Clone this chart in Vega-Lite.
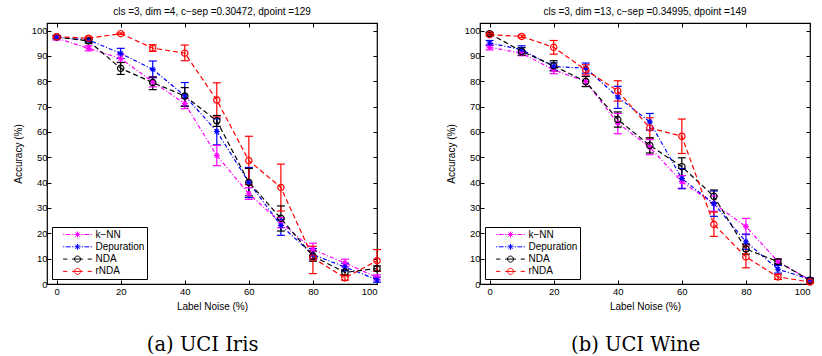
{
  "$schema": "https://vega.github.io/schema/vega-lite/v6.json",
  "background": "white",
  "padding": {"left": 12, "top": 5, "right": 5, "bottom": 0},
  "datasets": {
    "iris": [
      {"m": "k−NN", "x": 0, "y": 97.0, "lo": 96.3, "hi": 97.7},
      {"m": "k−NN", "x": 10, "y": 93.0, "lo": 92.0, "hi": 94.0},
      {"m": "k−NN", "x": 20, "y": 89.0, "lo": 87.5, "hi": 90.5},
      {"m": "k−NN", "x": 30, "y": 79.8, "lo": 77.8, "hi": 81.8},
      {"m": "k−NN", "x": 40, "y": 71.2, "lo": 69.2, "hi": 73.2},
      {"m": "k−NN", "x": 50, "y": 50.7, "lo": 46.7, "hi": 54.7},
      {"m": "k−NN", "x": 60, "y": 35.6, "lo": 33.4, "hi": 38.0},
      {"m": "k−NN", "x": 70, "y": 24.2, "lo": 22.2, "hi": 26.2},
      {"m": "k−NN", "x": 80, "y": 13.6, "lo": 11.1, "hi": 16.1},
      {"m": "k−NN", "x": 90, "y": 8.3, "lo": 6.8, "hi": 9.8},
      {"m": "k−NN", "x": 100, "y": 2.6, "lo": 1.6, "hi": 3.6},
      {"m": "Depuration", "x": 0, "y": 97.3, "lo": 96.8, "hi": 97.8},
      {"m": "Depuration", "x": 10, "y": 96.3, "lo": 95.8, "hi": 96.8},
      {"m": "Depuration", "x": 20, "y": 91.0, "lo": 89.0, "hi": 93.0},
      {"m": "Depuration", "x": 30, "y": 84.7, "lo": 81.4, "hi": 88.0},
      {"m": "Depuration", "x": 40, "y": 74.3, "lo": 70.2, "hi": 79.5},
      {"m": "Depuration", "x": 50, "y": 60.2, "lo": 54.9, "hi": 65.2},
      {"m": "Depuration", "x": 60, "y": 40.1, "lo": 34.1, "hi": 46.0},
      {"m": "Depuration", "x": 70, "y": 23.1, "lo": 19.2, "hi": 25.5},
      {"m": "Depuration", "x": 80, "y": 11.6, "lo": 9.6, "hi": 14.0},
      {"m": "Depuration", "x": 90, "y": 6.7, "lo": 5.2, "hi": 8.2},
      {"m": "Depuration", "x": 100, "y": 1.7, "lo": 0.7, "hi": 2.7},
      {"m": "NDA", "x": 0, "y": 97.5, "lo": 97.0, "hi": 98.0},
      {"m": "NDA", "x": 10, "y": 95.9, "lo": 95.1, "hi": 96.7},
      {"m": "NDA", "x": 20, "y": 85.1, "lo": 82.7, "hi": 87.4},
      {"m": "NDA", "x": 30, "y": 79.5, "lo": 76.7, "hi": 81.7},
      {"m": "NDA", "x": 40, "y": 74.2, "lo": 70.2, "hi": 77.5},
      {"m": "NDA", "x": 50, "y": 64.4, "lo": 62.2, "hi": 66.5},
      {"m": "NDA", "x": 60, "y": 40.1, "lo": 34.8, "hi": 45.6},
      {"m": "NDA", "x": 70, "y": 25.9, "lo": 20.9, "hi": 30.8},
      {"m": "NDA", "x": 80, "y": 11.0, "lo": 9.0, "hi": 13.0},
      {"m": "NDA", "x": 90, "y": 4.6, "lo": 3.6, "hi": 5.6},
      {"m": "NDA", "x": 100, "y": 6.1, "lo": 5.1, "hi": 7.1},
      {"m": "rNDA", "x": 0, "y": 97.6, "lo": 97.1, "hi": 98.1},
      {"m": "rNDA", "x": 10, "y": 97.0, "lo": 96.5, "hi": 97.5},
      {"m": "rNDA", "x": 20, "y": 98.8, "lo": 98.5, "hi": 99.1},
      {"m": "rNDA", "x": 30, "y": 93.1, "lo": 91.8, "hi": 94.4},
      {"m": "rNDA", "x": 40, "y": 91.1, "lo": 88.1, "hi": 94.3},
      {"m": "rNDA", "x": 50, "y": 72.6, "lo": 65.9, "hi": 79.4},
      {"m": "rNDA", "x": 60, "y": 48.7, "lo": 39.2, "hi": 58.3},
      {"m": "rNDA", "x": 70, "y": 38.1, "lo": 28.8, "hi": 47.3},
      {"m": "rNDA", "x": 80, "y": 10.3, "lo": 4.1, "hi": 14.9},
      {"m": "rNDA", "x": 90, "y": 2.4, "lo": 1.5, "hi": 3.5},
      {"m": "rNDA", "x": 100, "y": 9.2, "lo": 5.0, "hi": 13.6}
    ],
    "wine": [
      {"m": "k−NN", "x": 0, "y": 93.4, "lo": 92.4, "hi": 94.4},
      {"m": "k−NN", "x": 10, "y": 91.1, "lo": 90.1, "hi": 92.1},
      {"m": "k−NN", "x": 20, "y": 84.5, "lo": 83.0, "hi": 86.0},
      {"m": "k−NN", "x": 30, "y": 79.9, "lo": 78.0, "hi": 82.0},
      {"m": "k−NN", "x": 40, "y": 63.5, "lo": 59.3, "hi": 67.3},
      {"m": "k−NN", "x": 50, "y": 54.0, "lo": 51.0, "hi": 57.0},
      {"m": "k−NN", "x": 60, "y": 40.3, "lo": 37.8, "hi": 42.8},
      {"m": "k−NN", "x": 70, "y": 31.7, "lo": 28.7, "hi": 34.7},
      {"m": "k−NN", "x": 80, "y": 22.7, "lo": 19.5, "hi": 25.9},
      {"m": "k−NN", "x": 90, "y": 8.9, "lo": 7.9, "hi": 9.9},
      {"m": "k−NN", "x": 100, "y": 1.6, "lo": 1.1, "hi": 2.1},
      {"m": "Depuration", "x": 0, "y": 95.1, "lo": 94.1, "hi": 96.1},
      {"m": "Depuration", "x": 10, "y": 92.5, "lo": 91.0, "hi": 94.0},
      {"m": "Depuration", "x": 20, "y": 85.8, "lo": 84.3, "hi": 87.3},
      {"m": "Depuration", "x": 30, "y": 85.2, "lo": 83.2, "hi": 87.2},
      {"m": "Depuration", "x": 40, "y": 73.8, "lo": 69.3, "hi": 78.0},
      {"m": "Depuration", "x": 50, "y": 64.0, "lo": 60.7, "hi": 67.3},
      {"m": "Depuration", "x": 60, "y": 41.6, "lo": 37.6, "hi": 45.6},
      {"m": "Depuration", "x": 70, "y": 31.7, "lo": 26.7, "hi": 36.7},
      {"m": "Depuration", "x": 80, "y": 16.7, "lo": 13.7, "hi": 19.7},
      {"m": "Depuration", "x": 90, "y": 5.8, "lo": 4.3, "hi": 7.3},
      {"m": "Depuration", "x": 100, "y": 1.9, "lo": 1.4, "hi": 2.4},
      {"m": "NDA", "x": 0, "y": 98.8, "lo": 98.3, "hi": 99.3},
      {"m": "NDA", "x": 10, "y": 91.8, "lo": 90.3, "hi": 93.3},
      {"m": "NDA", "x": 20, "y": 86.1, "lo": 84.1, "hi": 88.1},
      {"m": "NDA", "x": 30, "y": 79.9, "lo": 77.9, "hi": 81.9},
      {"m": "NDA", "x": 40, "y": 64.9, "lo": 61.9, "hi": 67.9},
      {"m": "NDA", "x": 50, "y": 54.7, "lo": 51.7, "hi": 57.7},
      {"m": "NDA", "x": 60, "y": 46.3, "lo": 42.8, "hi": 49.8},
      {"m": "NDA", "x": 70, "y": 34.6, "lo": 32.1, "hi": 37.1},
      {"m": "NDA", "x": 80, "y": 13.8, "lo": 11.8, "hi": 15.8},
      {"m": "NDA", "x": 90, "y": 8.8, "lo": 7.8, "hi": 9.8},
      {"m": "NDA", "x": 100, "y": 1.5, "lo": 1.0, "hi": 2.0},
      {"m": "rNDA", "x": 0, "y": 98.4, "lo": 97.9, "hi": 98.9},
      {"m": "rNDA", "x": 10, "y": 97.7, "lo": 97.2, "hi": 98.2},
      {"m": "rNDA", "x": 20, "y": 93.4, "lo": 90.7, "hi": 96.1},
      {"m": "rNDA", "x": 30, "y": 84.5, "lo": 82.5, "hi": 86.5},
      {"m": "rNDA", "x": 40, "y": 76.2, "lo": 72.2, "hi": 80.2},
      {"m": "rNDA", "x": 50, "y": 61.6, "lo": 57.6, "hi": 65.6},
      {"m": "rNDA", "x": 60, "y": 58.3, "lo": 51.5, "hi": 65.1},
      {"m": "rNDA", "x": 70, "y": 23.5, "lo": 18.8, "hi": 28.4},
      {"m": "rNDA", "x": 80, "y": 10.7, "lo": 6.4, "hi": 15.0},
      {"m": "rNDA", "x": 90, "y": 2.8, "lo": 1.8, "hi": 3.8},
      {"m": "rNDA", "x": 100, "y": 0.8, "lo": 0.3, "hi": 1.3}
    ]
  },
  "config": {
    "font": "Liberation Sans",
    "view": {"stroke": "black", "strokeWidth": 1.2},
    "axis": {"grid": false, "domain": false, "tickColor": "black", "labelColor": "black", "titleColor": "black", "labelFont": "Liberation Sans", "titleFont": "Liberation Sans", "labelFontSize": 9.5, "titleFontSize": 10, "titleFontWeight": "normal", "tickSize": -4},
    "title": {"font": "Liberation Sans", "fontSize": 10, "fontWeight": "normal", "color": "black"},
    "legend": {"orient": "bottom-left", "offset": 5, "padding": 2.5, "strokeColor": "black", "fillColor": "white", "symbolSize": 36, "symbolStrokeWidth": 1, "symbolOffset": 18, "labelOffset": 13, "labelFontSize": 10, "labelFont": "Liberation Sans", "labelColor": "black", "rowPadding": 2.3, "symbolOpacity": 1, "symbolFillColor": "transparent"}
  },
  "spacing": 54,
  "resolve": {"scale": {"color": "independent", "shape": "independent"}, "legend": {"color": "independent", "shape": "independent"}},
  "hconcat": [
    {
      "title": {"text": "(a) UCI Iris", "orient": "bottom", "font": "DejaVu Serif", "fontSize": 19.5, "fontWeight": "normal", "offset": 24, "anchor": "middle", "dx": 1},
      "resolve": {"scale": {"color": "independent", "shape": "independent"}, "legend": {"color": "independent", "shape": "independent"}},
      "vconcat": [
        {
          "width": 330, "height": 261,
          "title": {"text": "cls =3, dim =4, c−sep =0.30472, dpoint =129", "frame": "group", "offset": 6},
          "data": {"name": "iris"},
          "resolve": {"axis": {"x": "independent", "y": "independent"}},
          "layer": [
            {
              "mark": {"type": "point", "filled": false, "opacity": 0},
              "encoding": {
                "x": {"field": "x", "type": "quantitative", "axis": {"orient": "top", "values": [0, 20, 40, 60, 80, 100], "labels": false, "title": null}},
                "y": {"field": "y", "type": "quantitative", "axis": {"orient": "right", "values": [0, 10, 20, 30, 40, 50, 60, 70, 80, 90, 100], "labels": false, "title": null}},
                "color": {"field": "m", "type": "nominal", "legend": {"title": null, "orient": "bottom-left", "symbolSize": 36, "symbolOpacity": 1, "encode": {"symbols": {"update": {"opacity": {"value": 1}, "strokeOpacity": {"value": 1}, "strokeWidth": {"value": 1}}}}}},
                "shape": {"field": "m", "type": "nominal", "scale": {"domain": ["k−NN", "Depuration", "NDA", "rNDA"], "range": ["M-4.8,0L-4.4,0M-3.9,0L-2.3,0M-1.8,0L-1.4,0M-1,0L1,0M1.4,0L1.8,0M2.3,0L3.9,0M4.4,0L4.8,0M0,-1L0,1M-0.7,-0.7L0.7,0.7M-0.7,0.7L0.7,-0.7", "M-4.8,0L-4.4,0M-3.9,0L-2.3,0M-1.8,0L-1.4,0M-1,0L1,0M1.4,0L1.8,0M2.3,0L3.9,0M4.4,0L4.8,0M0,-1L0,1M-0.7,-0.7L0.7,0.7M-0.7,0.7L0.7,-0.7", "M-4.8,0L-3.4,0M-1.8,0L1.8,0M3.4,0L4.8,0M1,0A1,1,0,1,1,-1,0A1,1,0,1,1,1,0", "M-4.8,0L-3.4,0M-1.8,0L1.8,0M3.4,0L4.8,0M1,0A1,1,0,1,1,-1,0A1,1,0,1,1,1,0"]}, "legend": {"title": null, "orient": "bottom-left", "symbolSize": 36, "symbolOpacity": 1, "encode": {"symbols": {"update": {"opacity": {"value": 1}, "strokeOpacity": {"value": 1}, "strokeWidth": {"value": 1}}}}}}
              }
            },
            {
              "transform": [{"filter": {"field": "m", "oneOf": ["k−NN", "Depuration"]}}],
              "mark": {"type": "line", "strokeWidth": 1.2, "strokeDash": [4, 2, 1, 2]},
              "encoding": {
                "x": {"field": "x", "type": "quantitative", "scale": {"domain": [-3, 100], "nice": false, "zero": false}, "axis": {"orient": "bottom", "values": [0, 20, 40, 60, 80, 100], "title": "Label Noise (%)", "labelPadding": 6, "titlePadding": 6}},
                "y": {"field": "y", "type": "quantitative", "scale": {"domain": [0, 103], "nice": false}, "axis": {"orient": "left", "values": [0, 10, 20, 30, 40, 50, 60, 70, 80, 90, 100], "title": "Accuracy (%)", "labelPadding": 4, "titlePadding": 8}},
                "color": {"field": "m", "type": "nominal", "scale": {"domain": ["k−NN", "Depuration", "NDA", "rNDA"], "range": ["#ff00ff", "#0000ff", "#000000", "#ff0000"]}}
              }
            },
            {
              "transform": [{"filter": {"field": "m", "oneOf": ["NDA", "rNDA"]}}],
              "mark": {"type": "line", "strokeWidth": 1.2, "strokeDash": [5, 3]},
              "encoding": {
                "x": {"field": "x", "type": "quantitative", "axis": null},
                "y": {"field": "y", "type": "quantitative", "axis": null},
                "color": {"field": "m", "type": "nominal"}
              }
            },
            {
              "mark": {"type": "rule", "strokeWidth": 1.2},
              "encoding": {
                "x": {"field": "x", "type": "quantitative", "axis": null},
                "y": {"field": "lo", "type": "quantitative", "axis": null},
                "y2": {"field": "hi"},
                "color": {"field": "m", "type": "nominal"}
              }
            },
            {
              "mark": {"type": "point", "shape": "stroke", "size": 64, "filled": false, "strokeWidth": 1.2, "opacity": 1},
              "encoding": {
                "x": {"field": "x", "type": "quantitative", "axis": null},
                "y": {"field": "lo", "type": "quantitative", "axis": null},
                "color": {"field": "m", "type": "nominal"}
              }
            },
            {
              "mark": {"type": "point", "shape": "stroke", "size": 64, "filled": false, "strokeWidth": 1.2, "opacity": 1},
              "encoding": {
                "x": {"field": "x", "type": "quantitative", "axis": null},
                "y": {"field": "hi", "type": "quantitative", "axis": null},
                "color": {"field": "m", "type": "nominal"}
              }
            },
            {
              "transform": [{"filter": {"field": "m", "oneOf": ["k−NN", "Depuration"]}}],
              "mark": {"type": "point", "shape": "M-1,0L1,0M0,-1L0,1M-0.7,-0.7L0.7,0.7M-0.7,0.7L0.7,-0.7", "size": 36, "filled": false, "strokeWidth": 1.1, "opacity": 1},
              "encoding": {
                "x": {"field": "x", "type": "quantitative", "axis": null},
                "y": {"field": "y", "type": "quantitative", "axis": null},
                "color": {"field": "m", "type": "nominal"}
              }
            },
            {
              "transform": [{"filter": {"field": "m", "oneOf": ["NDA", "rNDA"]}}],
              "mark": {"type": "point", "shape": "circle", "size": 40, "filled": false, "strokeWidth": 1.2, "opacity": 1},
              "encoding": {
                "x": {"field": "x", "type": "quantitative", "axis": null},
                "y": {"field": "y", "type": "quantitative", "axis": null},
                "color": {"field": "m", "type": "nominal"}
              }
            }
          ]
        }
      ]
    },
    {
      "title": {"text": "(b) UCI Wine", "orient": "bottom", "font": "DejaVu Serif", "fontSize": 19.5, "fontWeight": "normal", "offset": 24, "anchor": "middle", "dx": 1},
      "resolve": {"scale": {"color": "independent", "shape": "independent"}, "legend": {"color": "independent", "shape": "independent"}},
      "vconcat": [
        {
          "width": 330, "height": 261,
          "title": {"text": "cls =3, dim =13, c−sep =0.34995, dpoint =149", "frame": "group", "offset": 6},
          "data": {"name": "wine"},
          "resolve": {"axis": {"x": "independent", "y": "independent"}},
          "layer": [
            {
              "mark": {"type": "point", "filled": false, "opacity": 0},
              "encoding": {
                "x": {"field": "x", "type": "quantitative", "axis": {"orient": "top", "values": [0, 20, 40, 60, 80, 100], "labels": false, "title": null}},
                "y": {"field": "y", "type": "quantitative", "axis": {"orient": "right", "values": [0, 10, 20, 30, 40, 50, 60, 70, 80, 90, 100], "labels": false, "title": null}},
                "color": {"field": "m", "type": "nominal", "legend": {"title": null, "orient": "bottom-left", "symbolSize": 36, "symbolOpacity": 1, "encode": {"symbols": {"update": {"opacity": {"value": 1}, "strokeOpacity": {"value": 1}, "strokeWidth": {"value": 1}}}}}},
                "shape": {"field": "m", "type": "nominal", "scale": {"domain": ["k−NN", "Depuration", "NDA", "rNDA"], "range": ["M-4.8,0L-4.4,0M-3.9,0L-2.3,0M-1.8,0L-1.4,0M-1,0L1,0M1.4,0L1.8,0M2.3,0L3.9,0M4.4,0L4.8,0M0,-1L0,1M-0.7,-0.7L0.7,0.7M-0.7,0.7L0.7,-0.7", "M-4.8,0L-4.4,0M-3.9,0L-2.3,0M-1.8,0L-1.4,0M-1,0L1,0M1.4,0L1.8,0M2.3,0L3.9,0M4.4,0L4.8,0M0,-1L0,1M-0.7,-0.7L0.7,0.7M-0.7,0.7L0.7,-0.7", "M-4.8,0L-3.4,0M-1.8,0L1.8,0M3.4,0L4.8,0M1,0A1,1,0,1,1,-1,0A1,1,0,1,1,1,0", "M-4.8,0L-3.4,0M-1.8,0L1.8,0M3.4,0L4.8,0M1,0A1,1,0,1,1,-1,0A1,1,0,1,1,1,0"]}, "legend": {"title": null, "orient": "bottom-left", "symbolSize": 36, "symbolOpacity": 1, "encode": {"symbols": {"update": {"opacity": {"value": 1}, "strokeOpacity": {"value": 1}, "strokeWidth": {"value": 1}}}}}}
              }
            },
            {
              "transform": [{"filter": {"field": "m", "oneOf": ["k−NN", "Depuration"]}}],
              "mark": {"type": "line", "strokeWidth": 1.2, "strokeDash": [4, 2, 1, 2]},
              "encoding": {
                "x": {"field": "x", "type": "quantitative", "scale": {"domain": [-3, 100], "nice": false, "zero": false}, "axis": {"orient": "bottom", "values": [0, 20, 40, 60, 80, 100], "title": "Label Noise (%)", "labelPadding": 6, "titlePadding": 6}},
                "y": {"field": "y", "type": "quantitative", "scale": {"domain": [0, 103], "nice": false}, "axis": {"orient": "left", "values": [0, 10, 20, 30, 40, 50, 60, 70, 80, 90, 100], "title": "Accuracy (%)", "labelPadding": 4, "titlePadding": 8}},
                "color": {"field": "m", "type": "nominal", "scale": {"domain": ["k−NN", "Depuration", "NDA", "rNDA"], "range": ["#ff00ff", "#0000ff", "#000000", "#ff0000"]}}
              }
            },
            {
              "transform": [{"filter": {"field": "m", "oneOf": ["NDA", "rNDA"]}}],
              "mark": {"type": "line", "strokeWidth": 1.2, "strokeDash": [5, 3]},
              "encoding": {
                "x": {"field": "x", "type": "quantitative", "axis": null},
                "y": {"field": "y", "type": "quantitative", "axis": null},
                "color": {"field": "m", "type": "nominal"}
              }
            },
            {
              "mark": {"type": "rule", "strokeWidth": 1.2},
              "encoding": {
                "x": {"field": "x", "type": "quantitative", "axis": null},
                "y": {"field": "lo", "type": "quantitative", "axis": null},
                "y2": {"field": "hi"},
                "color": {"field": "m", "type": "nominal"}
              }
            },
            {
              "mark": {"type": "point", "shape": "stroke", "size": 64, "filled": false, "strokeWidth": 1.2, "opacity": 1},
              "encoding": {
                "x": {"field": "x", "type": "quantitative", "axis": null},
                "y": {"field": "lo", "type": "quantitative", "axis": null},
                "color": {"field": "m", "type": "nominal"}
              }
            },
            {
              "mark": {"type": "point", "shape": "stroke", "size": 64, "filled": false, "strokeWidth": 1.2, "opacity": 1},
              "encoding": {
                "x": {"field": "x", "type": "quantitative", "axis": null},
                "y": {"field": "hi", "type": "quantitative", "axis": null},
                "color": {"field": "m", "type": "nominal"}
              }
            },
            {
              "transform": [{"filter": {"field": "m", "oneOf": ["k−NN", "Depuration"]}}],
              "mark": {"type": "point", "shape": "M-1,0L1,0M0,-1L0,1M-0.7,-0.7L0.7,0.7M-0.7,0.7L0.7,-0.7", "size": 36, "filled": false, "strokeWidth": 1.1, "opacity": 1},
              "encoding": {
                "x": {"field": "x", "type": "quantitative", "axis": null},
                "y": {"field": "y", "type": "quantitative", "axis": null},
                "color": {"field": "m", "type": "nominal"}
              }
            },
            {
              "transform": [{"filter": {"field": "m", "oneOf": ["NDA", "rNDA"]}}],
              "mark": {"type": "point", "shape": "circle", "size": 40, "filled": false, "strokeWidth": 1.2, "opacity": 1},
              "encoding": {
                "x": {"field": "x", "type": "quantitative", "axis": null},
                "y": {"field": "y", "type": "quantitative", "axis": null},
                "color": {"field": "m", "type": "nominal"}
              }
            }
          ]
        }
      ]
    }
  ]
}
